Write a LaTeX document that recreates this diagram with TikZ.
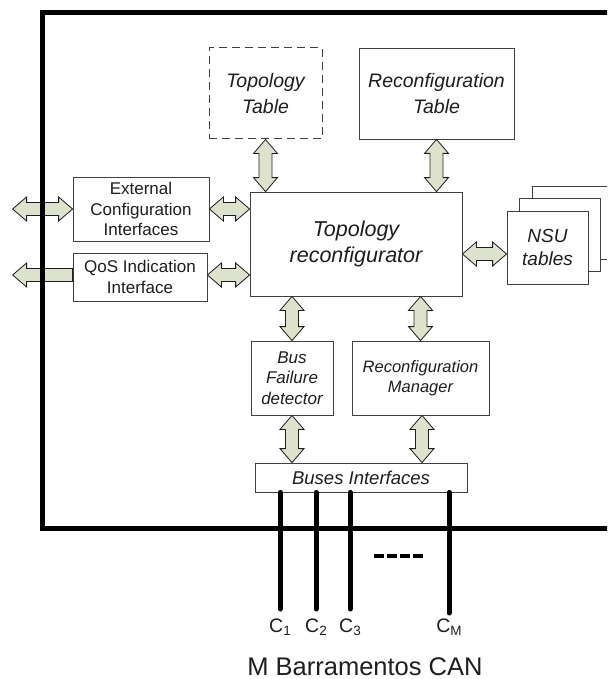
\documentclass[tikz,border=0pt]{standalone}
\usepackage{fontspec}
\setmainfont{Liberation Sans}
\usetikzlibrary{calc}

\definecolor{ink}{RGB}{30,30,30}
\definecolor{linkfill}{RGB}{221,226,204}

% sizes of the fat arrows
\newcommand{\headlen}{14pt}
\newcommand{\headw}{12pt}
\newcommand{\shaftw}{6.5pt}
\newcommand{\fs}[2]{\fontsize{#1}{#2}\selectfont}
\newcommand{\busidx}[1]{\raisebox{-3pt}{\fs{13.5}{14}#1}}

% fat arrow with a head at both ends
\newcommand{\twoway}[2]{%
  \filldraw[fatlink] let \p1=(#1), \p2=(#2), \n1={atan2(\y2-\y1,\x2-\x1)} in
    (\p1) -- ($(\p1)+(\n1:\headlen)+(\n1+90:\headw)$) -- ($(\p1)+(\n1:\headlen)+(\n1+90:\shaftw)$)
    -- ($(\p2)+(\n1+180:\headlen)+(\n1+90:\shaftw)$) -- ($(\p2)+(\n1+180:\headlen)+(\n1+90:\headw)$)
    -- (\p2) -- ($(\p2)+(\n1+180:\headlen)+(\n1-90:\headw)$) -- ($(\p2)+(\n1+180:\headlen)+(\n1-90:\shaftw)$)
    -- ($(\p1)+(\n1:\headlen)+(\n1-90:\shaftw)$) -- ($(\p1)+(\n1:\headlen)+(\n1-90:\headw)$) -- cycle;}
% fat arrow with a head at the second end only
\newcommand{\oneway}[2]{%
  \filldraw[fatlink] let \p1=(#1), \p2=(#2), \n1={atan2(\y2-\y1,\x2-\x1)} in
    ($(\p1)+(\n1+90:\shaftw)$) -- ($(\p2)+(\n1+180:\headlen)+(\n1+90:\shaftw)$)
    -- ($(\p2)+(\n1+180:\headlen)+(\n1+90:\headw)$) -- (\p2)
    -- ($(\p2)+(\n1+180:\headlen)+(\n1-90:\headw)$) -- ($(\p2)+(\n1+180:\headlen)+(\n1-90:\shaftw)$)
    -- ($(\p1)+(\n1-90:\shaftw)$) -- cycle;}

\tikzset{
  box/.style={draw=ink!85, line width=0.8pt, fill=white, inner sep=0pt, align=center, text=ink},
  plain/.style={font=\fs{17}{20.5}},
  slanted/.style={font=\fs{17}{20.5}\itshape},
  bigslanted/.style={font=\fs{19.5}{26}\itshape},
  fatlink/.style={fill=linkfill, draw=ink, line width=0.8pt, line join=miter},
  frame/.style={line width=5pt, draw=black},
  bus/.style={line width=5pt, draw=black, line cap=round},
}

\begin{document}
\begin{tikzpicture}[x=1pt,y=-1pt]
  \useasboundingbox (0,0) rectangle (607,679);
  \clip (0,0) rectangle (607,679);

  % tables on top
  \node[box, bigslanted, dashed, dash pattern=on 8pt off 5pt, line width=1pt,
        minimum width=113pt, minimum height=91pt] (tt) at (265.5,93.5) {Topology\\Table};
  \node[box, bigslanted, minimum width=155pt, minimum height=91pt] (rt) at (436.5,93.5) {Reconfiguration\\Table};

  % central block
  \node[box, font=\fs{21.5}{26}\itshape, minimum width=212pt, minimum height=104pt] (topo) at (356,244)
    {Topology\\reconfigurator};

  % interfaces on the left
  \node[box, plain, minimum width=136pt, minimum height=64pt] (ec) at (141,209)
    {External\\Configuration\\Interfaces};
  \node[box, plain, minimum width=134pt, minimum height=48pt] (qos) at (140,277)
    {QoS Indication\\Interface};

  % stack of NSU tables
  \node[box, minimum width=81pt, minimum height=73pt] (nsu3) at (572.5,222.5) {};
  \node[box, minimum width=81pt, minimum height=73pt] (nsu2) at (560,235) {};
  \node[box, font=\fs{19}{23}\itshape, minimum width=81pt, minimum height=73pt] (nsu) at (547.5,247.5)
    {NSU\\tables};

  % lower blocks
  \node[box, slanted, minimum width=82pt, minimum height=74pt] (bfd) at (292,378) {Bus\\Failure\\detector};
  \node[box, slanted, font=\fs{16.5}{20.5}\itshape, minimum width=137pt, minimum height=74pt] (rm) at (420.5,378)
    {Reconfiguration\\Manager};
  \node[box, font=\fs{18.5}{22}\itshape, minimum width=212pt, minimum height=29pt] (bi) at (361,477.5)
    {Buses Interfaces};

  % links
  \coordinate (rmlink) at ($(rm.south)+(1.5,0)$);
  \twoway{tt.south}{tt.south |- topo.north}
  \twoway{rt.south}{rt.south |- topo.north}
  \twoway{ec.east}{ec.east -| topo.west}
  \twoway{qos.east |- 0,275}{topo.west |- 0,275}
  \twoway{topo.east |- 0,254}{nsu.west |- 0,254}
  \twoway{bfd.north |- topo.south}{bfd.north}
  \twoway{rm.north |- topo.south}{rm.north}
  \twoway{bfd.south}{bfd.south |- bi.north}
  \twoway{rmlink}{rmlink |- bi.north}

  % to the outside
  \coordinate (ecout) at ($(ec.west)+(-60,0)$);
  \coordinate (qosout) at (ecout |- 0,275);
  \twoway{ec.west}{ecout}
  \oneway{qos.west |- 0,275}{qosout}

  % enclosing frame
  \draw[frame] (620,13) -- (42.5,13) -- (42.5,528) -- (620,528);

  % CAN buses
  \foreach \x/\n/\e in {280/1/609, 316/2/609, 350/3/609, 449/M/613}{
    \coordinate (c\n) at (\x,\e);
    \draw[bus] (bi.south -| c\n) -- (c\n);
    \node[anchor=base, text=ink, font=\fs{19.5}{22}, inner sep=0pt] (lab\n) at (\x,632) {C\busidx{\n}};
  }
  \draw[line width=4.5pt, dash pattern=on 10pt off 3pt] (374,556) -- (425,556);

  \node[anchor=base, text=ink, font=\fs{25.5}{28}, inner sep=0pt] (can) at (365,675) {M Barramentos CAN};
\end{tikzpicture}
\end{document}
